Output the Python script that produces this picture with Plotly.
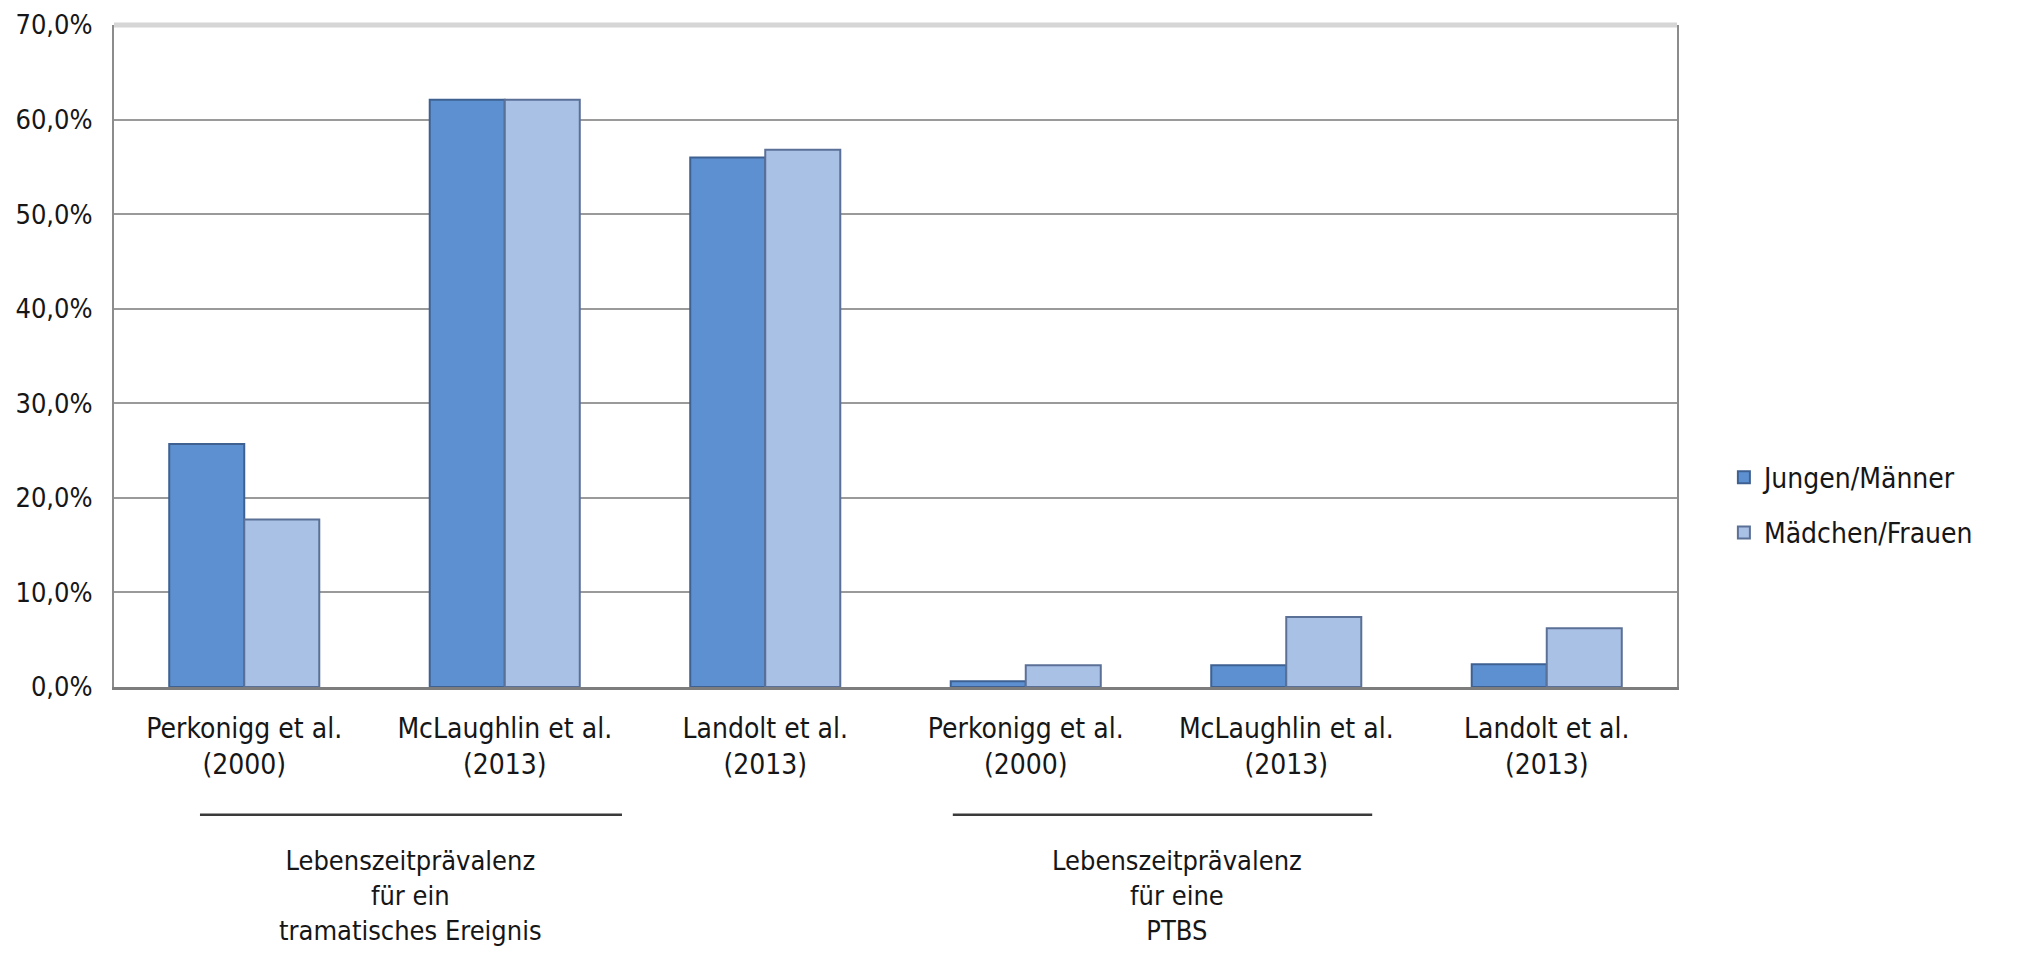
import plotly.graph_objects as go

# Studies shown on the x axis (two groups of three)
study_labels = [
    "Perkonigg et al.<br>(2000)",
    "McLaughlin et al.<br>(2013)",
    "Landolt et al.<br>(2013)",
    "Perkonigg et al.<br>(2000)",
    "McLaughlin et al.<br>(2013)",
    "Landolt et al.<br>(2013)",
]
positions = list(range(len(study_labels)))

# Lifetime prevalence in percent
jungen_maenner = [25.7, 62.1, 56.0, 0.6, 2.3, 2.4]
maedchen_frauen = [17.7, 62.1, 56.8, 2.3, 7.4, 6.2]

series_names = ["Jungen/Männer", "Mädchen/Frauen"]

# Group captions below the study labels
group_captions = [
    "Lebenszeitprävalenz<br>für ein<br>tramatisches Ereignis",
    "Lebenszeitprävalenz<br>für eine<br>PTBS",
]
group_spans = [(-0.17, 1.45), (2.72, 4.33)]
group_centers = [0.64, 3.58]

y_ticks = [0, 10, 20, 30, 40, 50, 60, 70]
y_tick_text = [f"{v:.1f}".replace(".", ",") + "%" for v in y_ticks]

FONT = "DejaVu Sans Condensed, DejaVu Sans, sans-serif"
TEXT = "#161616"

fig = go.Figure()
fig.add_trace(go.Bar(
    x=positions, y=jungen_maenner, name=series_names[0],
    marker=dict(color="#5d90d0", line=dict(color="#3f6192", width=2)),
    legendgroup="a",
))
fig.add_trace(go.Bar(
    x=positions, y=maedchen_frauen, name=series_names[1],
    marker=dict(color="#aac1e6", line=dict(color="#5b7096", width=2)),
    legendgroup="b",
))

shapes = []
# top border of plot area
shapes.append(dict(type="line", xref="paper", yref="paper", x0=0, x1=1, y0=1, y1=1,
                   line=dict(color="#d6d6d6", width=5), layer="below"))
for (a, b) in group_spans:
    shapes.append(dict(type="line", xref="x", yref="paper", x0=a, x1=b, y0=-0.193, y1=-0.193,
                       line=dict(color="#3a3a3a", width=2.5)))

annotations = []
for cap, cx in zip(group_captions, group_centers):
    annotations.append(dict(text=cap, x=cx, xref="x", y=-0.236, yref="paper",
                            xanchor="center", yanchor="top", showarrow=False,
                            font=dict(family=FONT, size=27, color=TEXT), align="center"))

fig.update_layout(
    width=2026, height=956,
    margin=dict(l=114, r=349, t=25, b=269),
    paper_bgcolor="white", plot_bgcolor="white",
    barmode="group", bargap=0.424, bargroupgap=0,
    font=dict(family=FONT, size=28, color=TEXT),
    showlegend=True,
    legend=dict(x=1.03, y=0.275, xanchor="left", yanchor="middle",
                traceorder="grouped", tracegroupgap=16,
                font=dict(family=FONT, size=28, color=TEXT),
                bgcolor="rgba(0,0,0,0)"),
    shapes=shapes,
    annotations=annotations,
)
fig.update_xaxes(
    range=[-0.5, 5.5], tickmode="array", tickvals=positions, ticktext=study_labels,
    showgrid=False, showline=True, linecolor="#7d7d7d", linewidth=3,
    ticks="", ticklabelstandoff=14, zeroline=False, automargin=False,
    tickfont=dict(family=FONT, size=28, color=TEXT),
)
fig.update_yaxes(
    range=[0, 70], tickmode="array", tickvals=y_ticks, ticktext=y_tick_text,
    showgrid=True, gridcolor="#9a9a9a", gridwidth=2,
    showline=True, linecolor="#8c8c8c", linewidth=2, mirror=True,
    zeroline=False, ticks="", ticklabelstandoff=14, automargin=False,
    tickfont=dict(family=FONT, size=27, color=TEXT),
)

fig.write_html("out.html")
